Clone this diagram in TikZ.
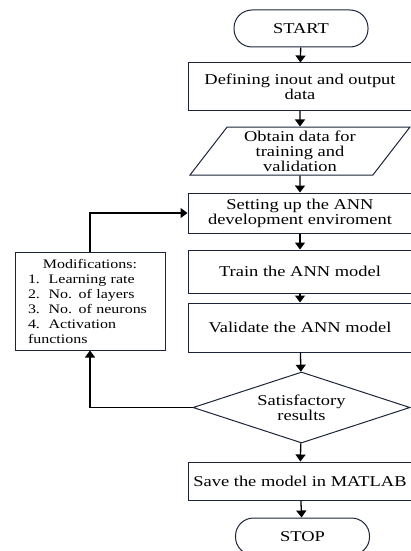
\documentclass[tikz,border=0pt]{standalone}
\usepackage{fontspec}
\setmainfont{Liberation Serif}[FakeStretch=1.23]
\usetikzlibrary{shapes.geometric,arrows.meta}
\definecolor{edgeblue}{RGB}{28,36,58}

\begin{document}
\begin{tikzpicture}[x=1pt, y=-1pt,
    every node/.style={font=\fontsize{15}{15}\selectfont, draw=edgeblue, line width=1pt, align=center, inner sep=1pt},
    procbox/.style={rectangle, minimum width=224, minimum height=#1},
    termbox/.style={rectangle, rounded corners=18pt, minimum width=134, minimum height=37},
    iobox/.style={trapezium, trapezium left angle=49, trapezium right angle=131, trapezium stretches body, minimum width=220, minimum height=48},
    decbox/.style={diamond, aspect=3, inner sep=0pt, minimum width=217, minimum height=71},
    flow/.style={-{Triangle[width=10pt,length=7pt]}, line width=1.3pt}]
    \useasboundingbox (0,0) rectangle (411,551);

    % Main column
    \node[termbox] (start) at (301,28.5) {START};
    \node[procbox=47] (define) at (300,86.5) {Defining inout and output\\data};
    \node[iobox] (obtain) at (300,151) {Obtain data for\\training and\\validation};
    \node[procbox=40] (setup) at (300,213) {Setting up the ANN\\development enviroment};
    \node[procbox=43] (train) at (300,271.5) {Train the ANN model};
    \node[procbox=49] (valid) at (300,327.5) {Validate the ANN model};
    \node[decbox] (satis) at (301.5,407.5) {Satisfactory\\results};
    \node[procbox=38] (save) at (300,481) {Save the model in MATLAB};
    \node[termbox] (stop) at (302.5,536.5) {STOP};

    % Modifications box
    \node[rectangle, minimum width=150, minimum height=98, align=left, text width=124pt,
        font=\fontsize{13}{15}\selectfont] (mods) at (90,301)
        {\makebox[124pt]{Modifications:}\\
         1.\ \ Learning rate\\
         2.\ \ No. of layers\\
         3.\ \ No. of neurons\\
         4.\ \ Activation\\
         functions};

    % Arrows down the column
    \draw[flow] (start) -- (define);
    \draw[flow] (define) -- (obtain);
    \draw[flow] (obtain) -- (setup);
    \draw[flow] (setup) -- (train);
    \draw[flow] (train) -- (valid);
    \draw[flow] (valid) -- (satis);
    \draw[flow] (satis) -- (save);
    \draw[flow] (save) -- (stop);

    % Feedback loop
    \draw[flow] (satis.west) -| (mods.south);
    \draw[flow] (mods.north) |- (setup.west);
\end{tikzpicture}
\end{document}
